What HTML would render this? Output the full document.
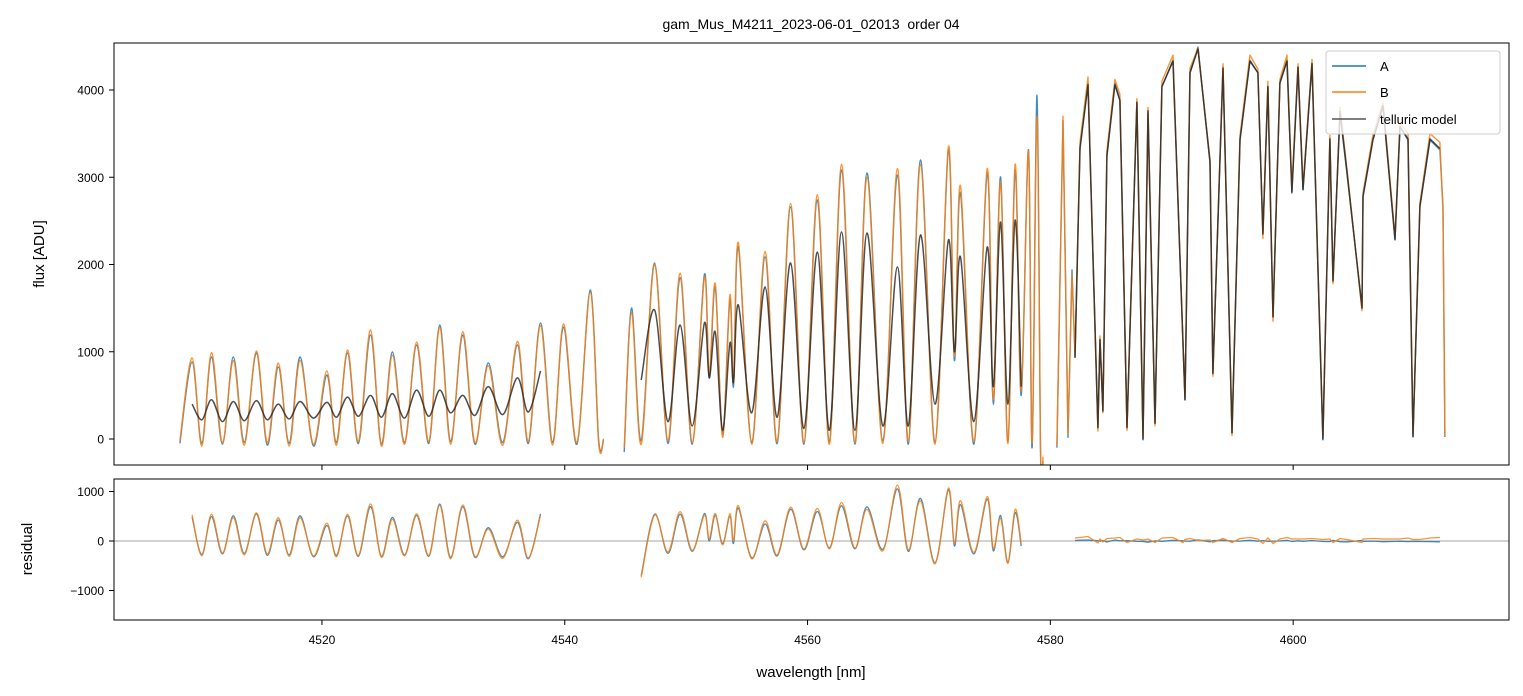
<!DOCTYPE html>
<html><head><meta charset="utf-8"><style>
html,body{margin:0;padding:0;background:#fff}
svg{display:block;font-family:"Liberation Sans","DejaVu Sans",sans-serif}
</style></head><body>
<svg id="chart" width="1523" height="696" viewBox="0 0 1523 696" xmlns="http://www.w3.org/2000/svg">
<defs>
<clipPath id="clipTop"><rect x="114" y="43" width="1395" height="422"/></clipPath>
<clipPath id="clipBot"><rect x="114" y="479" width="1395" height="141"/></clipPath>
</defs>
<text x="811" y="29" font-size="14" text-anchor="middle" style="white-space:pre">gam_Mus_M4211_2023-06-01_02013  order 04</text>
<g id="topPlot" clip-path="url(#clipTop)"></g>
<g id="botPlot" clip-path="url(#clipBot)"></g>
<g id="axes"></g>
<rect x="114" y="43" width="1395" height="422" fill="none" stroke="#000" stroke-width="1"/>
<rect x="114" y="479" width="1395" height="141" fill="none" stroke="#000" stroke-width="1"/>
<text transform="translate(44,254) rotate(-90)" font-size="15" text-anchor="middle">flux [ADU]</text>
<text transform="translate(32,549) rotate(-90)" font-size="15" text-anchor="middle">residual</text>
<text x="811" y="677" font-size="15" text-anchor="middle">wavelength [nm]</text>
<g>
<rect x="1326" y="51" width="174" height="83" rx="3" fill="#fff" fill-opacity="0.8" stroke="#ccc"/>
<line x1="1332" y1="66" x2="1366" y2="66" stroke="#1f77b4" stroke-width="1.5"/>
<text x="1380" y="71" font-size="13">A</text>
<line x1="1332" y1="92" x2="1366" y2="92" stroke="#ff7f0e" stroke-width="1.5"/>
<text x="1380" y="97" font-size="13">B</text>
<line x1="1332" y1="119" x2="1366" y2="119" stroke="#555" stroke-width="1.5"/>
<text x="1380" y="124" font-size="13">telluric model</text>
</g>
</svg>
<script>
// ---- data ----
const xTicks = [4520, 4540, 4560, 4580, 4600];
const fluxTicks = [0, 1000, 2000, 3000, 4000];
const residTicks = [-1000, 0, 1000];

const wl1 = [4508.3,4509.3,4510.1,4510.9,4511.8,4512.7,4513.6,4514.6,4515.5,4516.4,4517.3,4518.2,4519.3,4520.4,4521.2,4522.1,4523.0,4524.0,4524.9,4525.8,4526.8,4527.8,4528.8,4529.7,4530.6,4531.6,4532.6,4533.7,4534.9,4536.1,4537.0,4538.0,4539.0,4539.9,4541.0,4542.1,4542.8,4543.2];
const a1 = [-50,883,-50,940,-60,940,-40,986,-70,825,-50,940,-80,733,-40,986,-50,1192,-60,997,-40,1077,-50,1307,-30,1192,-60,871,-40,1077,-50,1330,-40,1284,-60,1708,-20,0];
const b1 = [-20,930,-80,990,-40,900,-70,1010,-40,870,-80,900,-60,780,-70,1020,-30,1250,-80,960,-60,1110,-30,1280,-60,1230,-40,840,-70,1120,-30,1300,-70,1320,-40,1680,-50,-10];
const m1 = [null,400,220,450,200,430,210,440,220,400,230,430,240,420,250,480,260,500,250,520,240,560,260,560,300,500,270,600,280,700,310,780,null,null,null,null,null,null];

const wl2 = [4544.9,4545.5,4546.3,4547.4,4548.5,4549.5,4550.5,4551.5,4551.9,4552.4,4553.0,4553.6,4553.9,4554.3,4555.4,4556.5,4557.5,4558.6,4559.7,4560.8,4561.8,4562.8,4563.9,4564.9,4566.2,4567.4,4568.3,4569.3,4570.5,4571.6,4572.1,4572.6,4573.7,4574.8,4575.3,4575.9,4576.5,4577.1,4577.6,4578.2,4578.5,4578.9,4579.2,4579.4];
const a2 = [-150,1500,-20,2017,-50,1849,-60,1885,700,1747,50,1597,600,2201,-40,2086,-50,2659,-60,2739,-40,3083,-60,3049,-20,3026,-60,3198,-40,3313,900,2819,-60,3049,400,3003,-30,3083,500,3313,-100,3940,-200,-250];
const b2 = [-100,1450,-60,2000,-20,1900,-40,1850,750,1780,20,1650,650,2250,-60,2150,-30,2700,-40,2800,-60,3150,-40,3000,-50,3100,-30,3150,-60,3350,950,2900,-30,3100,450,2950,-50,3150,550,3300,-50,3700,-150,-200];
const m2 = [null,null,676,1478,200,1307,150,1330,700,1226,100,1100,650,1536,300,1742,250,2017,120,2143,100,2372,100,2361,150,1971,150,2338,400,2281,1000,2086,200,2201,600,2487,400,2510,600,null,null,null,null,null];

const wl3 = [4580.54,4581.04,4581.45,4581.78,4582.03,4582.44,4583.10,4583.92,4584.09,4584.33,4584.66,4585.32,4585.73,4586.31,4587.13,4587.63,4588.04,4588.62,4589.19,4590.10,4590.92,4591.09,4591.50,4592.16,4593.15,4593.39,4594.22,4594.96,4595.62,4596.44,4597.10,4597.51,4597.92,4598.34,4598.91,4599.49,4599.90,4600.40,4600.81,4601.55,4602.45,4603.03,4603.28,4603.86,4604.43,4605.67,4605.75,4606.57,4607.40,4608.39,4608.80,4609.46,4609.87,4610.44,4611.27,4612.09,4612.34,4612.50];
const a3 = [-100,3650,20,1937,940,3347,4080,137,1135,330,3232,4080,3885,137,3851,-10,3736,183,4034,4344,1135,447,4195,4493,3163,756,4264,69,3427,4344,4195,2361,4034,1398,4080,4344,2819,4264,2854,4310,-10,3427,1822,3736,3049,1513,2774,3427,3805,2281,3576,3427,23,2659,3427,3313,2659,23];
const b3 = [-80,3700,60,1880,990,3400,4150,90,1180,300,3300,4120,3950,100,3900,20,3800,150,4100,4400,1100,480,4250,4480,3200,720,4300,40,3480,4400,4240,2300,4100,1350,4120,4400,2870,4300,2900,4350,30,3480,1780,3800,3100,1470,2820,3480,3860,2330,3620,3500,60,2700,3500,3400,2600,40];
const m3 = [null,null,null,null,930,3330,4060,130,1140,320,3250,4060,3880,130,3860,0,3760,180,4040,4330,1130,450,4200,4470,3180,750,4250,70,3430,4330,4200,2350,4040,1400,4080,4330,2830,4260,2860,4300,0,3440,1810,3750,3070,1500,2780,3430,3820,2290,3580,3440,30,2670,3440,3330,null,null];

// ---- scales ----
const X0 = 114, X1 = 1509, W0 = 4502.87, W1 = 4617.78;
function xs(w){ return X0 + (w - W0) / (W1 - W0) * (X1 - X0); }
function yTop(f){ return 439 - f * 0.08725; }
function yBot(r){ return 541 - r * 0.0495; }

const NS = 'http://www.w3.org/2000/svg';
function mk(tag, attrs, parent){
  const e = document.createElementNS(NS, tag);
  for (const k in attrs) e.setAttribute(k, attrs[k]);
  parent.appendChild(e);
  return e;
}
function pathFrom(wl, vals, ys, smooth){
  let d = '', run = [];
  const flush = () => {
    if (run.length > 1){
      d += 'M' + run[0][0].toFixed(1) + ' ' + run[0][1].toFixed(1);
      for (let i = 0; i < run.length - 1; i++){
        const p0 = run[Math.max(0, i - 1)], p1 = run[i], p2 = run[i + 1], p3 = run[Math.min(run.length - 1, i + 2)];
        if (!smooth){ d += 'L' + p2[0].toFixed(1) + ' ' + p2[1].toFixed(1); continue; }
        const c1x = p1[0] + (p2[0] - p0[0]) / 6, c1y = p1[1] + (p2[1] - p0[1]) / 6;
        const c2x = p2[0] - (p3[0] - p1[0]) / 6, c2y = p2[1] - (p3[1] - p1[1]) / 6;
        d += 'C' + c1x.toFixed(1) + ' ' + c1y.toFixed(1) + ' ' + c2x.toFixed(1) + ' ' + c2y.toFixed(1) + ' ' + p2[0].toFixed(1) + ' ' + p2[1].toFixed(1);
      }
    }
    run = [];
  };
  for (let i = 0; i < wl.length; i++){
    if (vals[i] === null || vals[i] === undefined){ flush(); continue; }
    run.push([xs(wl[i]), ys(vals[i])]);
  }
  flush();
  return d;
}
function resid(data, model){ return data.map((v, i) => model[i] === null ? null : v - model[i]); }

const topG = document.getElementById('topPlot');
const botG = document.getElementById('botPlot');
const segs = [[wl1, a1, b1, m1, true], [wl2, a2, b2, m2, true], [wl3, a3, b3, m3, false]];

segs.forEach((s, k) => {
  const pa = mk('path', {d: pathFrom(s[0], s[1], yTop, s[4]), fill: 'none', stroke: '#1f77b4', 'stroke-width': 1.4, 'stroke-opacity': 0.85, 'stroke-linejoin': 'round'}, topG);
  
  
  const pb = mk('path', {d: pathFrom(s[0], s[2], yTop, s[4]), fill: 'none', stroke: '#ff7f0e', 'stroke-width': 1.4, 'stroke-opacity': 0.85, 'stroke-linejoin': 'round'}, topG);
  
  
  const pm = mk('path', {d: pathFrom(s[0], s[3], yTop, s[4]), fill: 'none', stroke: '#222', 'stroke-width': 1.5, 'stroke-opacity': 0.8, 'stroke-linejoin': 'round'}, topG);
  
  
});

const zl = mk('line', {x1: X0, x2: X1, y1: yBot(0), y2: yBot(0), stroke: '#888', 'stroke-width': 0.8}, botG);


segs.forEach((s, k) => {
  const ra = mk('path', {d: pathFrom(s[0], resid(s[1], s[3]), yBot, s[4]), fill: 'none', stroke: '#1f77b4', 'stroke-width': 1.3, 'stroke-opacity': 0.85}, botG);
  
  
  const rb = mk('path', {d: pathFrom(s[0], resid(s[2], s[3]), yBot, s[4]), fill: 'none', stroke: '#ff7f0e', 'stroke-width': 1.3, 'stroke-opacity': 0.85}, botG);
  
  
});

// ---- axes ----
const axG = document.getElementById('axes');
xTicks.forEach(t => {
  const x = xs(t);
  const t1 = mk('line', {x1: x, x2: x, y1: 465, y2: 470, stroke: '#000'}, axG);
  
  
  const t2 = mk('line', {x1: x, x2: x, y1: 620, y2: 625, stroke: '#000'}, axG);
  
  
  const lb = mk('text', {x: x, y: 644, 'font-size': 12, 'text-anchor': 'middle'}, axG);
  lb.textContent = t;
  
  
});
fluxTicks.forEach(t => {
  const y = yTop(t);
  const tk = mk('line', {x1: 109, x2: 114, y1: y, y2: y, stroke: '#000'}, axG);
  
  
  const lb = mk('text', {x: 104, y: y + 4.5, 'font-size': 12, 'text-anchor': 'end'}, axG);
  lb.textContent = t;
  
  
});
residTicks.forEach(t => {
  const y = yBot(t);
  const tk = mk('line', {x1: 109, x2: 114, y1: y, y2: y, stroke: '#000'}, axG);
  
  
  const lb = mk('text', {x: 104, y: y + 4.5, 'font-size': 12, 'text-anchor': 'end'}, axG);
  lb.textContent = t < 0 ? '\u2212' + Math.abs(t) : String(t);
  
  
});
</script>
</body></html>
